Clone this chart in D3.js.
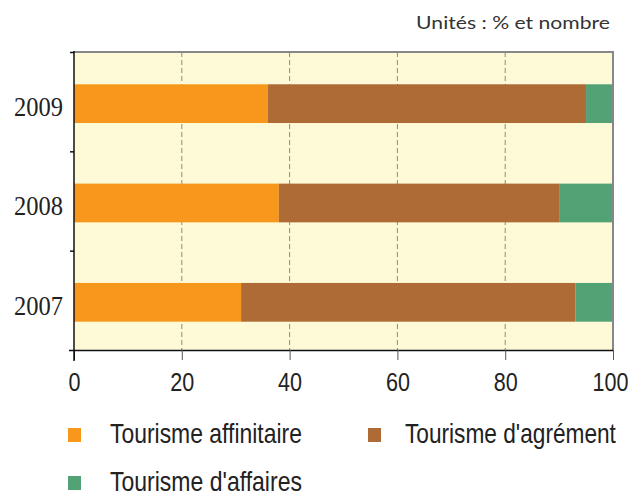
<!DOCTYPE html>
<html><head><meta charset="utf-8">
<script src="https://cdn.jsdelivr.net/npm/d3@7/dist/d3.min.js"></script>
<style>body{margin:0;background:#fff}svg{display:block}</style>
</head><body>
<script>
const years = ["2009", "2008", "2007"];
const seriesNames = ["Tourisme affinitaire", "Tourisme d'agrément", "Tourisme d'affaires"];
const affinitaire = [36, 38, 31];
const agrement = [59, 52, 62];
const affaires = [5, 10, 7];
const xTicks = [0, 20, 40, 60, 80, 100];
const colors = ["#F7981D", "#AE6B35", "#53A275"];

const W = 630, H = 496;
const m = {left: 74, right: 17, top: 52, bottom: 146};
const svg = d3.select("body").append("svg").attr("width", W).attr("height", H);

// squeeze a text horizontally to a target width, anchored at (px, py)
function fit(sel, px, py, target) {
  sel.each(function(d, i) {
    const t = d3.select(this);
    const nat = this.getComputedTextLength();
    const w = typeof target === "function" ? target(d, i) : target;
    const X = typeof px === "function" ? px(d, i) : px;
    const Y = typeof py === "function" ? py(d, i) : py;
    t.attr("x", 0).attr("y", 0).attr("transform", `translate(${X},${Y}) scale(${w / nat},1)`);
  });
}

const x = d3.scaleLinear().domain([0, 100]).range([m.left, W - m.right]);
const y = d3.scaleBand().domain(years).range([m.top, H - m.bottom]).padding(0);

const rows = years.map((yr, i) => ({year: yr, v: [affinitaire[i], agrement[i], affaires[i]]}));

// background
svg.append("rect").attr("x", x(0)).attr("y", m.top).attr("width", x(100) - x(0)).attr("height", H - m.bottom - m.top).attr("fill", "#FEF9D7");

// grid
svg.append("g").selectAll("line").data(xTicks.filter(d => d > 0 && d < 100)).join("line")
  .attr("x1", d => x(d)).attr("x2", d => x(d)).attr("y1", m.top).attr("y2", H - m.bottom)
  .attr("stroke", "#8a8a8a").attr("stroke-width", 1).attr("stroke-dasharray", "5,3");

// bars
const stack = [];
rows.forEach(r => {
  let acc = 0;
  r.v.forEach((val, k) => { stack.push({year: r.year, k, x0: acc, x1: acc + val}); acc += val; });
});
const bw = y.bandwidth();
svg.append("g").selectAll("rect").data(stack).join("rect")
  .attr("x", d => x(d.x0)).attr("width", d => x(d.x1) - x(d.x0))
  .attr("y", d => y(d.year) + bw * 0.325).attr("height", bw * 0.39)
  .attr("fill", d => colors[d.k]);

// top and right border
svg.append("path").attr("d", `M${x(0)},${m.top}H${x(100)}V${H - m.bottom}`)
  .attr("fill", "none").attr("stroke", "#87878a").attr("stroke-width", 2);

// x axis
const xAxis = svg.append("g").attr("transform", `translate(0,${H - m.bottom})`)
  .call(d3.axisBottom(x).tickValues(xTicks).tickSize(10).tickPadding(12).tickSizeOuter(0));
xAxis.select(".domain").attr("d", `M${m.left - 5},0.5H${x(100)}`).attr("stroke", "#111").attr("stroke-width", 1.5);
xAxis.selectAll(".tick line").attr("stroke", d => (d === 0 ? "#111" : "#555")).attr("stroke-width", 1);
xAxis.selectAll(".tick text").attr("font-family", "'Liberation Sans', sans-serif")
  .attr("font-size", 25).attr("fill", "#222").attr("dy", null)
  .call(fit, d => (d === 100 ? -3 : 0), 41, d => String(d).length * 12);

// y axis
const bounds = years.map(d => y(d)).concat([H - m.bottom]);
const yg = svg.append("g");
yg.append("line").attr("x1", m.left).attr("x2", m.left).attr("y1", m.top - 1).attr("y2", H - m.bottom + 11)
  .attr("stroke", "#111").attr("stroke-width", 1.5);
yg.selectAll("line.tk").data(bounds.slice(0, 3)).join("line").attr("class", "tk")
  .attr("x1", m.left - 4).attr("x2", m.left).attr("y1", d => d + 0.5).attr("y2", d => d + 0.5)
  .attr("stroke", "#111").attr("stroke-width", 1.5);
yg.selectAll("text").data(years).join("text")
  .attr("dy", "0.35em")
  .attr("text-anchor", "end").attr("font-family", "'Liberation Serif', serif").attr("font-size", 27)
  .attr("fill", "#222").text(d => d)
  .call(fit, m.left - 11, d => y(d) + bw * 0.55, 49);

// units
svg.append("text").attr("text-anchor", "end")
  .attr("font-family", "'Lato', sans-serif").attr("font-size", 18).attr("fill", "#333")
  .text("Unités : % et nombre")
  .call(fit, 610, 29, 194);

// legend
const legPos = [[68, 443], [368, 443], [68, 491]];
const legW = [192, 211, 192];
const lg = svg.append("g").selectAll("g").data(seriesNames).join("g")
  .attr("transform", (d, i) => `translate(${legPos[i][0]},${legPos[i][1]})`);
lg.append("rect").attr("x", 0).attr("y", -15).attr("width", 13).attr("height", 14).attr("fill", (d, i) => colors[i]);
lg.append("text")
  .attr("font-family", "'Liberation Sans', sans-serif").attr("font-size", 27)
  .attr("fill", "#222").text(d => d)
  .call(fit, (d, i) => (i === 1 ? 37 : 42), 0, (d, i) => legW[i]);
</script>
</body></html>
